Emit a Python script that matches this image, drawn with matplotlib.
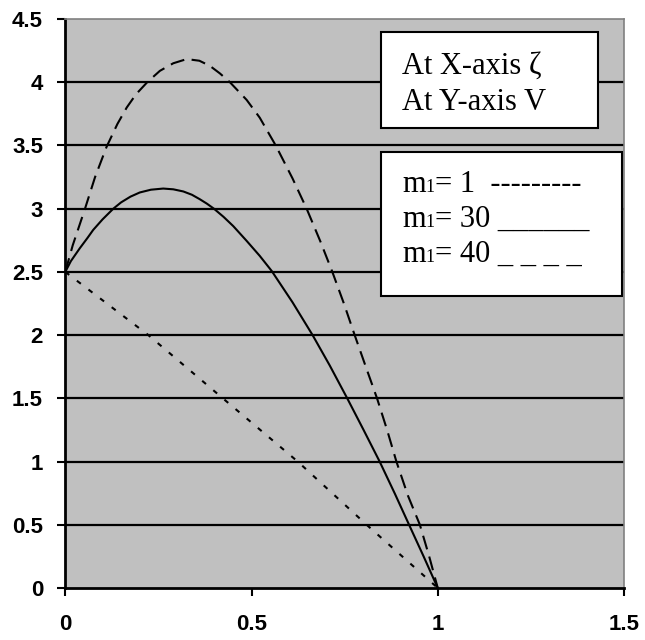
import matplotlib
matplotlib.use("Agg")
import matplotlib.pyplot as plt
from matplotlib.patches import Rectangle

# m1 = 1 (dotted)
x_m1 = [0.0, 0.223, 0.423, 0.624, 0.809, 1.0]
v_m1 = [2.5, 2.0, 1.5, 1.0, 0.5, 0.0]

# m1 = 30 (solid)
x_m30 = [0.0, 0.015, 0.039, 0.06, 0.075, 0.1, 0.129, 0.15, 0.175, 0.2, 0.23,
         0.263, 0.29, 0.317, 0.34, 0.361, 0.38, 0.399, 0.425, 0.451, 0.487,
         0.522, 0.554, 0.61, 0.664, 0.71, 0.757, 0.8, 0.844, 0.885, 0.923,
         0.962, 1.0]
v_m30 = [2.5, 2.585, 2.687, 2.77, 2.832, 2.915, 3.0, 3.05, 3.095, 3.128, 3.15,
         3.159, 3.153, 3.136, 3.11, 3.075, 3.04, 3.0, 2.935, 2.862, 2.745,
         2.627, 2.508, 2.26, 2.0, 1.76, 1.5, 1.255, 1.0, 0.745, 0.5,
         0.25, 0.0]

# m1 = 40 (dashed)
x_m40 = [0.0, 0.02, 0.053, 0.08, 0.111, 0.14, 0.165, 0.19, 0.22, 0.254, 0.29,
         0.326, 0.36, 0.388, 0.415, 0.442, 0.487, 0.522, 0.565, 0.61, 0.648,
         0.685, 0.717, 0.748, 0.777, 0.808, 0.837, 0.864, 0.889, 0.92, 0.952,
         0.977, 1.0]
v_m40 = [2.5, 2.71, 3.0, 3.25, 3.49, 3.67, 3.80, 3.905, 4.0, 4.09, 4.15,
         4.183, 4.17, 4.13, 4.07, 4.0, 3.86, 3.72, 3.5, 3.24, 3.0,
         2.74, 2.5, 2.25, 2.0, 1.74, 1.5, 1.25, 1.0, 0.73, 0.5,
         0.25, 0.0]

xticks = [0, 0.5, 1, 1.5]
xlabels = ["0", "0.5", "1", "1.5"]
yticks = [0, 0.5, 1, 1.5, 2, 2.5, 3, 3.5, 4, 4.5]
ylabels = ["0", "0.5", "1", "1.5", "2", "2.5", "3", "3.5", "4", "4.5"]

axis_lines = ["At X-axis \u03b6", "At Y-axis V"]
legend_m = ["1", "30", "40"]
legend_marks = ["---------", "______", "_ _ _ _"]

SERIF = ["Liberation Serif", "DejaVu Serif"]
BIG = 22
SMALL = 13


def put_legend_line(fig, ax, renderer, x0, y, value, mark):
    # "m", small "1" on the baseline, then the rest
    axw = ax.get_window_extent(renderer).width
    x = x0
    pieces = [("m", BIG), ("1", SMALL), ("= " + value + ("  " if value == "1" else " ") + mark, BIG)]
    for s, size in pieces:
        t = ax.text(x, y, s, transform=ax.transAxes, fontsize=size, family=SERIF,
                    va="baseline", ha="left", zorder=6)
        w = t.get_window_extent(renderer).width
        x += w / axw


def main():
    fig = plt.figure(figsize=(6.45, 6.4), dpi=100)
    ax = fig.add_axes([0.1012, 0.0813, 0.8662, 0.889])
    ax.set_facecolor("#c0c0c0")

    for v in yticks[1:-1]:
        ax.axhline(v, color="black", lw=1.6, zorder=1)

    ax.plot(x_m1, v_m1, color="black", lw=1.5, linestyle=(0, (2.4, 4.6)), zorder=3)
    ax.plot(x_m30, v_m30, color="black", lw=1.5, zorder=3)
    ax.plot(x_m40, v_m40, color="black", lw=1.5, linestyle=(0, (6.8, 3.6)), zorder=3)

    ax.set_xlim(0, 1.5)
    ax.set_ylim(0, 4.5)
    ax.set_xticks(xticks)
    ax.set_xticklabels(xlabels, fontfamily="Liberation Sans", fontweight="bold", fontsize=16)
    ax.set_yticks(yticks)
    ax.set_yticklabels(ylabels, fontfamily="Liberation Sans", fontweight="bold", fontsize=16)

    ax.tick_params(axis="x", direction="out", length=6, width=1.5, pad=13)
    ax.tick_params(axis="y", direction="out", length=6, width=1.5, pad=10)

    ax.spines["left"].set_linewidth(2)
    ax.spines["bottom"].set_linewidth(2)
    ax.spines["top"].set_color("#808080")
    ax.spines["right"].set_color("#808080")
    ax.spines["top"].set_linewidth(1.2)
    ax.spines["right"].set_linewidth(1.2)

    # text boxes
    ax.add_patch(Rectangle((0.566, 0.809), 0.388, 0.169, transform=ax.transAxes,
                           facecolor="white", edgecolor="black", lw=1.5, zorder=5))
    ax.add_patch(Rectangle((0.566, 0.514), 0.431, 0.252, transform=ax.transAxes,
                           facecolor="white", edgecolor="black", lw=1.5, zorder=5))

    for s, yy in zip(axis_lines, [0.903, 0.840]):
        ax.text(0.603, yy, s, transform=ax.transAxes, fontsize=BIG, family=SERIF,
                va="baseline", zorder=6)

    renderer = fig.canvas.get_renderer()
    for val, mark, yy in zip(legend_m, legend_marks, [0.696, 0.634, 0.573]):
        put_legend_line(fig, ax, renderer, 0.603, yy, val, mark)

    fig.savefig("out.png", dpi=100)


if __name__ == "__main__":
    main()
